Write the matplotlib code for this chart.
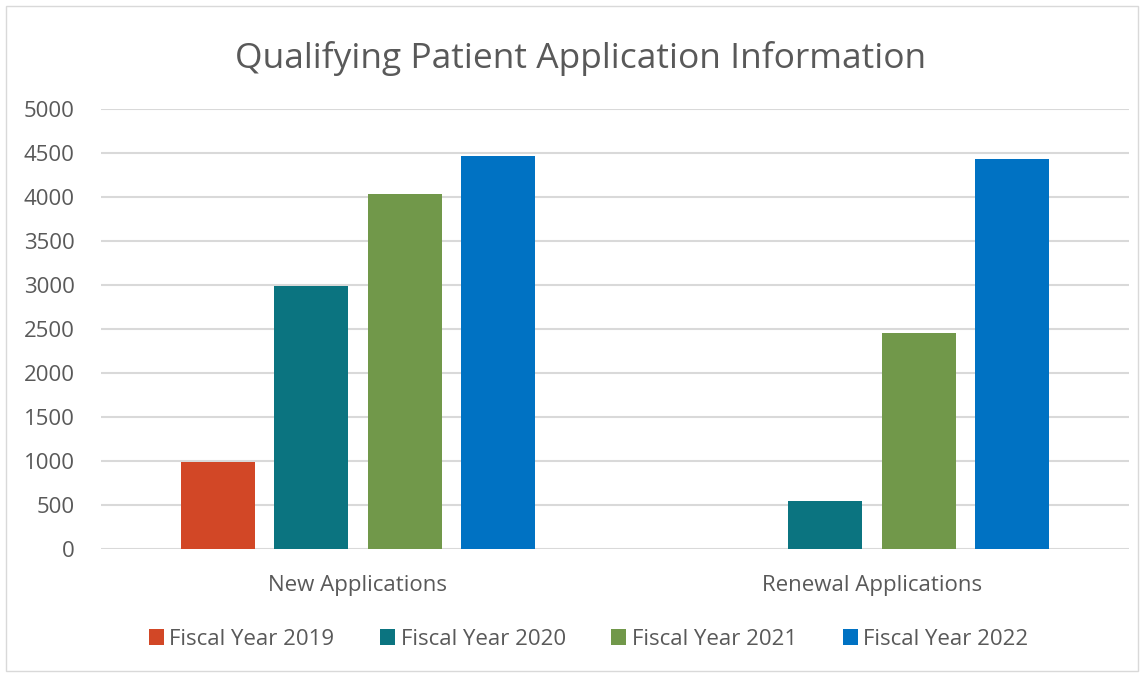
import numpy as np
import matplotlib
matplotlib.use("Agg")
import matplotlib.pyplot as plt
from matplotlib.patches import Rectangle

categories = ["New Applications", "Renewal Applications"]
series = ["Fiscal Year 2019", "Fiscal Year 2020", "Fiscal Year 2021", "Fiscal Year 2022"]
fy2019 = [990, 0]
fy2020 = [2990, 545]
fy2021 = [4040, 2460]
fy2022 = [4470, 4432]
colors = ["#d24726", "#0b7480", "#71984a", "#0072c3"]
yticks = [0, 500, 1000, 1500, 2000, 2500, 3000, 3500, 4000, 4500, 5000]

plt.rcParams["font.family"] = ["Open Sans", "DejaVu Sans"]
txt = "#595959"

fig = plt.figure(figsize=(11.45, 6.75), dpi=100)
ax = fig.add_axes([101 / 1145, 125.7 / 675, 1028 / 1145, 440 / 675])

x = np.arange(len(categories))
step, width = 0.182, 0.144
for i, (vals, name, c) in enumerate(zip([fy2019, fy2020, fy2021, fy2022], series, colors)):
    ax.bar(x + (i - 1.5) * step, vals, width, color=c, label=name, zorder=3)

ax.set_xlim(-0.5, 1.5)
ax.set_ylim(0, 5000)
ax.set_yticks(yticks)
ax.set_xticks(x)
ax.set_xticklabels(categories)
ax.grid(axis="y", color="#d9d9d9", linewidth=1.5, zorder=0)
for s in ax.spines.values():
    s.set_visible(False)
ax.tick_params(axis="both", length=0, labelsize=16, colors=txt)
ax.tick_params(axis="y", pad=19)
ax.tick_params(axis="x", pad=18.5)

fig.text(0.507, 0.913, "Qualifying Patient Application Information", ha="center", va="center",
         fontsize=25.5, color=txt)

leg = fig.legend(loc="center", bbox_to_anchor=(0.514, 0.053), ncol=4, frameon=False,
                 fontsize=16, handlelength=0.68, handleheight=0.68, handletextpad=0.25,
                 columnspacing=2.05)
for t in leg.get_texts():
    t.set_color(txt)

fig.patches.append(Rectangle((6 / 1145, 4 / 675), 1132 / 1145, 665 / 675, transform=fig.transFigure,
                             fill=False, edgecolor="#d9d9d9", linewidth=1))

fig.savefig("out.png", dpi=100)
